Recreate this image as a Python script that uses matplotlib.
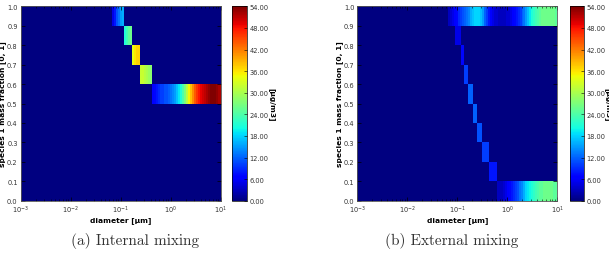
import matplotlib
matplotlib.use("Agg")
import matplotlib.pyplot as plt
import numpy as np
from matplotlib.ticker import FixedLocator, FormatStrFormatter, LogLocator, NullFormatter

# ---------------- data ----------------
row_height = 0.1
vmin, vmax = 0.0, 54.0
cbar_ticks = [0, 6, 12, 18, 24, 30, 36, 42, 48, 54]
x_range = [1e-3, 1e1]

# Internal mixing: rows (bottom of mass-fraction bin), diameter start/end [um], values [ug/m3]
int_row_bottoms = [0.9, 0.8, 0.7, 0.6, 0.5]
int_row_starts = [0.068, 0.118, 0.170, 0.245, 0.427]
int_row_ends = [0.118, 0.170, 0.245, 0.427, 10.0]
int_row_values = [
    [5, 8, 11, 13, 15, 16],
    [21, 23, 25, 26],
    [34, 36, 37, 37],
    [32, 32, 31, 30, 29, 28],
    [6, 7, 8, 9, 10, 10, 11, 11, 12, 13, 14, 15, 17, 19, 21, 24, 27,
     31, 35, 38, 41, 44, 46, 48, 49, 50, 51, 52, 53, 54, 54, 54, 53, 52],
]

# External mixing
ext_row_bottoms = [0.9, 0.8, 0.7, 0.6, 0.5, 0.4, 0.3, 0.2, 0.1, 0.0]
ext_row_starts = [0.065, 0.090, 0.1186, 0.136, 0.164, 0.206, 0.248, 0.305, 0.431, 0.622]
ext_row_ends = [10.0, 0.1186, 0.136, 0.164, 0.206, 0.248, 0.305, 0.431, 0.622, 10.0]
ext_row_values = [
    [3, 4, 5, 6, 7, 9, 10, 11, 12, 13, 14, 16, 17, 18, 18, 18, 17, 15, 12,
     10, 8, 6, 5, 4, 4, 3, 3, 3, 3, 4, 4, 5, 6, 7, 8, 9, 10, 12, 13, 15,
     17, 19, 21, 22, 23, 24, 25, 26, 26, 26, 26, 26, 26, 26, 25],
    [5],
    [7],
    [10],
    [12],
    [12],
    [11],
    [10],
    [8],
    [3, 3, 3, 4, 5, 6, 7, 8, 9, 10, 11, 13, 14, 16, 18, 19, 20, 21, 22,
     23, 24, 25, 25, 26, 26, 26, 26, 26, 25, 25],
]

y_ticks = [0.0, 0.1, 0.2, 0.3, 0.4, 0.5, 0.6, 0.7, 0.8, 0.9, 1.0]
x_ticks = [1e-3, 1e-2, 1e-1, 1e0, 1e1]
x_label = "diameter [µm]"
y_label = "species 1 mass fraction [0, 1]"
cbar_label = "[µg/m3]"
captions = ["(a) Internal mixing", "(b) External mixing"]

# ---------------- figure ----------------
W, H = 609, 255
fig = plt.figure(figsize=(W / 100, H / 100), dpi=100)
cmap = plt.get_cmap("jet")

tick_fs = 4.8
label_fs = 5.4


def px_axes(x0, x1, y0, y1):
    return fig.add_axes([x0 / W, 1 - y1 / H, (x1 - x0) / W, (y1 - y0) / H])


def draw_panel(ax_x0, cb_x0, bottoms, starts, ends, values, caption, cap_x, cb_pad):
    ax = px_axes(ax_x0, ax_x0 + 200, 7.3, 201.7)
    base = ax.pcolormesh(x_range, [0, 1], np.array([[0.0]]), cmap=cmap,
                         vmin=vmin, vmax=vmax, shading="flat")
    for b, s, e, vals in zip(bottoms, starts, ends, values):
        xe = np.logspace(np.log10(s), np.log10(e), len(vals) + 1)
        ax.pcolormesh(xe, [b, b + row_height], np.array([vals], dtype=float),
                      cmap=cmap, vmin=vmin, vmax=vmax, shading="flat")
    ax.set_xscale("log")
    ax.set_xlim(*x_range)
    ax.set_ylim(0, 1)
    ax.set_yticks(y_ticks)
    ax.yaxis.set_major_formatter(FormatStrFormatter("%.1f"))
    ax.xaxis.set_major_locator(FixedLocator(x_ticks))
    ax.xaxis.set_minor_locator(LogLocator(base=10, subs=np.arange(2, 10)))
    ax.xaxis.set_minor_formatter(NullFormatter())
    ax.tick_params(which="both", direction="in", top=True, right=True,
                   labelsize=tick_fs, pad=2, colors="black",
                   labelcolor="#333333")
    ax.tick_params(which="major", length=3, width=0.5)
    ax.tick_params(which="minor", length=1.5, width=0.4)
    for sp in ax.spines.values():
        sp.set_linewidth(0.6)
        sp.set_color("#555555")
    ax.set_xlabel(x_label, fontsize=label_fs, fontweight="bold", labelpad=1)
    ax.set_ylabel(y_label, fontsize=label_fs, fontweight="bold", labelpad=0.6)

    cax = px_axes(cb_x0, cb_x0 + 14.5, 7.3, 201.7)
    cb = fig.colorbar(base, cax=cax, ticks=cbar_ticks, format="%.2f")
    cb.outline.set_linewidth(0.5)
    cb.ax.tick_params(labelsize=tick_fs, direction="in", length=2, width=0.4,
                      pad=2, labelcolor="#333333")
    cb.set_label(cbar_label, fontsize=label_fs, fontweight="bold",
                 rotation=270, labelpad=cb_pad)

    fig.text(cap_x / W, 1 - 241 / H, caption, ha="center", va="center",
             fontsize=11, family="cmr10", color="#333333")
    return ax


draw_panel(20.5, 232.3, int_row_bottoms, int_row_starts, int_row_ends,
           int_row_values, captions[0], 135, 5)
draw_panel(357.3, 569.5, ext_row_bottoms, ext_row_starts, ext_row_ends,
           ext_row_values, captions[1], 452, 4.2)

fig.savefig("out.png", dpi=100)
